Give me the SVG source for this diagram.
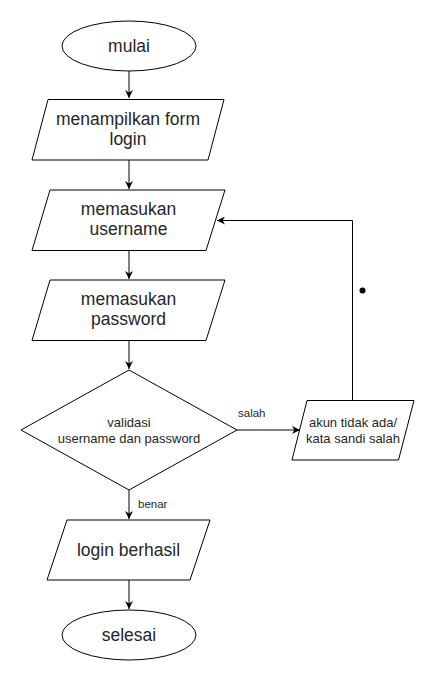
<svg xmlns="http://www.w3.org/2000/svg" width="434" height="681" viewBox="0 0 434 681">
<style>
.s{fill:#fff;stroke:#000;stroke-width:1}
.t{font-family:"Liberation Sans",Arial,sans-serif;fill:#262626;text-anchor:middle}
.l{font-size:17.5px}
.m{font-size:13px}
.sm{font-size:11.5px;text-anchor:start}
.c{fill:none;stroke:#000;stroke-width:1}
</style>
<defs>
<marker id="a" viewBox="0 0 10 10" refX="10" refY="5" markerWidth="8" markerHeight="8" markerUnits="userSpaceOnUse" orient="auto">
<path d="M0,0 L10,5 L0,10 L3,5 Z" fill="#000"/>
</marker>
</defs>
<rect width="434" height="681" fill="#fff"/>
<g id="connectors">
<path class="c" d="M129,71 L129,98" marker-end="url(#a)"/>
<path class="c" d="M129,160 L129,189" marker-end="url(#a)"/>
<path class="c" d="M129,250 L129,279" marker-end="url(#a)"/>
<path class="c" d="M129,340 L129,369" marker-end="url(#a)"/>
<path class="c" d="M237,430 L300,430" marker-end="url(#a)"/>
<path class="c" d="M352.5,400 L352.5,220.5 L217,220.5" marker-end="url(#a)"/>
<path class="c" d="M129,490 L129,519" marker-end="url(#a)"/>
<path class="c" d="M129,580 L129,609" marker-end="url(#a)"/>
<circle cx="362.5" cy="290.5" r="3" fill="#000"/>
<text class="t sm" x="238" y="417">salah</text>
<text class="t sm" x="138" y="508">benar</text>
</g>
<g id="mulai">
<ellipse class="s" cx="129" cy="46" rx="67" ry="25"/>
<text class="t l" x="129" y="52">mulai</text>
</g>
<g id="tampil-form">
<polygon class="s" points="48,99.5 224,99.5 208,160 32,160"/>
<text class="t l" x="128" y="125">menampilkan form</text>
<text class="t l" x="128" y="145">login</text>
</g>
<g id="username">
<polygon class="s" points="50,190 225,190 206,250.5 32,250.5"/>
<text class="t l" x="128.5" y="215">memasukan</text>
<text class="t l" x="128.5" y="235">username</text>
</g>
<g id="password">
<polygon class="s" points="50,280 225,280 206,340.5 32,340.5"/>
<text class="t l" x="128.5" y="305">memasukan</text>
<text class="t l" x="128.5" y="325">password</text>
</g>
<g id="validasi">
<polygon class="s" points="129,370 237,430 129,490 21,430"/>
<text class="t m" x="129" y="427">validasi</text>
<text class="t m" x="129" y="443">username dan password</text>
</g>
<g id="gagal">
<polygon class="s" points="307,400.5 414,400.5 398.5,460 292,460"/>
<text class="t m" x="353" y="427">akun tidak ada/</text>
<text class="t m" x="353" y="443">kata sandi salah</text>
</g>
<g id="berhasil">
<polygon class="s" points="67,520 210,520 190,580 47,580"/>
<text class="t l" x="128.5" y="556">login berhasil</text>
</g>
<g id="selesai">
<ellipse class="s" cx="129" cy="635" rx="67" ry="25"/>
<text class="t l" x="129" y="641">selesai</text>
</g>
</svg>
